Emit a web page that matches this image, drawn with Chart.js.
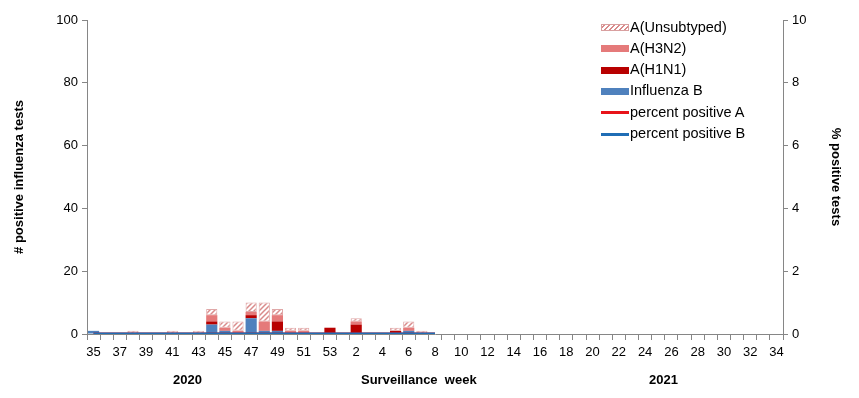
<!DOCTYPE html>
<html>
<head>
<meta charset="utf-8">
<script src="https://cdn.jsdelivr.net/npm/chart.js@4.4.1/dist/chart.umd.min.js"></script>
<style>
  body { margin: 0; background: #fff; font-family: "Liberation Sans", Arial, sans-serif; }
  #wrap { position: relative; width: 859px; height: 398px; }
  .lbl { position: absolute; font-weight: bold; font-size: 13px; color: #000; }
  #legend { position: absolute; left: 601px; top: 16.5px; font-size: 14.5px; }
  #legend div { height: 21.3px; line-height: 21.3px; white-space: nowrap; }
  #legend span.box { display: inline-block; width: 28px; vertical-align: middle; margin-right: 1px; }
</style>
</head>
<body>
<div id="wrap">
  <canvas id="myChart" width="859" height="398"></canvas>
  <div class="lbl" style="left:173px; top:372px;">2020</div>
  <div class="lbl" style="left:361px; top:372px;">Surveillance &nbsp;week</div>
  <div class="lbl" style="left:649px; top:372px;">2021</div>
  <div id="legend">
    <div><span class="box" style="height:7px; border:1px solid #d9a0a0; box-sizing:border-box; background:repeating-linear-gradient(-45deg,#fff 0 2px,#d98b8b 2px 3.5px);"></span>A(Unsubtyped)</div>
    <div><span class="box" style="height:7px; background:#e57a7a;"></span>A(H3N2)</div>
    <div><span class="box" style="height:7px; background:#b80000;"></span>A(H1N1)</div>
    <div><span class="box" style="height:7px; background:#4f81bd;"></span>Influenza B</div>
    <div><span class="box" style="height:3px; background:#e8141a;"></span>percent positive A</div>
    <div><span class="box" style="height:3px; background:#1f6db5;"></span>percent positive B</div>
  </div>
</div>
<script>
document.addEventListener('DOMContentLoaded', function () {
  const ctx = document.getElementById('myChart');

  // weeks 35..53 (2020) then 1..34 (2021)
  var weeks = [];
  for (let w = 35; w <= 53; w++) weeks.push(String(w));
  for (let w = 1; w <= 34; w++) weeks.push(String(w));

  const fluB      = [1,0,0,0,0,0,0,0,0,3,1,0,5,1,1,0,0,0,0, 0,0,0,0,0,1,0];
  const h1n1      = [0,0,0,0,0,0,0,0,0,1,0,0,1,0,3,0,0,0,2, 0,3,0,0,1,0,0];
  const h3n2      = [0,0,0,0,0,0,0,0,0,2,1,1,1,3,2,1,1,0,0, 0,1,0,0,0,1,0];
  const unsub     = [0,0,0,1,0,0,1,0,1,2,2,3,3,6,2,1,1,0,0, 0,1,0,0,1,2,1];
  const pctA      = [0,0,0,0,0,0,0,0,0,0,0,0,0,0,0,0,0,0,0, 0,0,0,0,0,0,0,0];
  const pctB      = [0,0,0,0,0,0,0,0,0,0,0,0,0,0,0,0,0,0,0, 0,0,0,0,0,0,0,0];

  // hatch for unsubtyped
  var pc = document.createElement('canvas');
  pc.width = 5; pc.height = 5;
  var p = pc.getContext('2d');
  p.fillStyle = '#fff'; p.fillRect(0, 0, 5, 5);
  p.strokeStyle = '#d98b8b'; p.lineWidth = 1.5;
  p.beginPath();
  p.moveTo(0, 5); p.lineTo(5, 0);
  p.moveTo(-1, 1); p.lineTo(1, -1);
  p.moveTo(4, 6); p.lineTo(6, 4);
  p.stroke();
  var hatch = p.createPattern(pc, 'repeat');

  const axisColor = '#868686';
  const tickFont = { family: 'Liberation Sans', size: 13 };

  new Chart(ctx, {
    type: 'bar',
    data: {
      labels: weeks,
      datasets: [
        { type: 'line', label: 'percent positive A', data: pctA, yAxisID: 'y2', borderColor: '#e8141a', borderWidth: 3, pointRadius: 0, order: 1 },
        { type: 'line', label: 'percent positive B', data: pctB, yAxisID: 'y2', borderColor: '#1f6db5', borderWidth: 3, pointRadius: 0, order: 0 },
        { label: 'Influenza B', data: fluB, backgroundColor: '#4f81bd', stack: 's', order: 5 },
        { label: 'A(H1N1)', data: h1n1, backgroundColor: '#b80000', stack: 's', order: 5 },
        { label: 'A(H3N2)', data: h3n2, backgroundColor: '#e57a7a', stack: 's', order: 5 },
        { label: 'A(Unsubtyped)', data: unsub, backgroundColor: hatch, borderColor: '#e0a8a8', borderWidth: 1, borderSkipped: false, stack: 's', order: 5 }
      ]
    },
    options: {
      responsive: false,
      animation: false,
      layout: { padding: { top: 20 } },
      datasets: { bar: { barPercentage: 0.85, categoryPercentage: 1 } },
      plugins: { legend: { display: false }, tooltip: { enabled: false } },
      scales: {
        x: {
          stacked: true,
          border: { color: axisColor },
          grid: { drawOnChartArea: false, offset: true, tickLength: 6, color: axisColor },
          ticks: {
            autoSkip: false, maxRotation: 0, color: '#000', font: tickFont, padding: 5,
            callback: function (v, i) { return i % 2 === 0 ? weeks[i] : ''; }
          },
          afterFit: function (a) { a.height = 64; }
        },
        y: {
          stacked: true, min: 0, max: 100,
          border: { color: axisColor },
          grid: { drawOnChartArea: false, tickLength: 5, color: axisColor },
          ticks: { stepSize: 20, color: '#000', font: tickFont, padding: 4 },
          title: { display: true, text: '# positive influenza tests', color: '#000', font: { family: 'Liberation Sans', size: 13, weight: 'bold' }, padding: { top: 12, bottom: 4 } },
          afterFit: function (a) { a.width = 87; }
        },
        y2: {
          position: 'right', min: 0, max: 10,
          border: { color: axisColor },
          grid: { drawOnChartArea: false, tickLength: 5, color: axisColor },
          ticks: { stepSize: 2, color: '#000', font: tickFont, padding: 4 },
          title: { display: true, text: '% positive tests', color: '#000', font: { family: 'Liberation Sans', size: 13, weight: 'bold' }, padding: { top: 16, bottom: 0 } },
          afterFit: function (a) { a.width = 76; }
        }
      }
    }
  });
});
</script>
</body>
</html>
